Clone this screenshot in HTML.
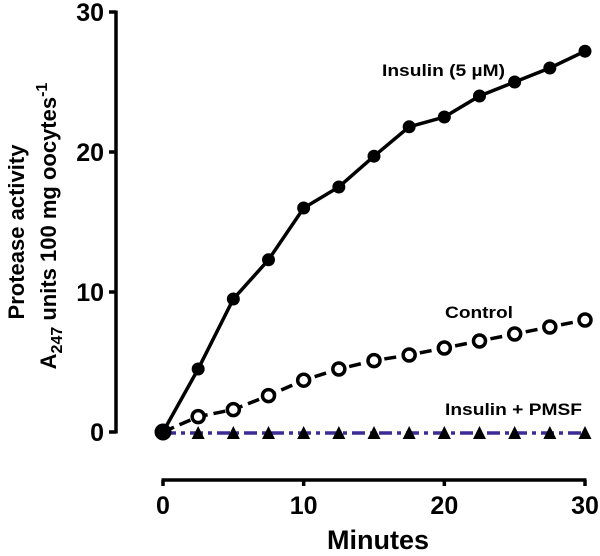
<!DOCTYPE html>
<html><head><meta charset="utf-8"><style>
body{margin:0;background:#fff}
svg text{font-family:"Liberation Sans",sans-serif;font-weight:bold;fill:#000}
</style></head><body>
<svg id="c" width="600" height="551" xmlns="http://www.w3.org/2000/svg"></svg>
<script>
const minutes=[0,2.5,5,7.5,10,12.5,15,17.5,20,22.5,25,27.5,30];
const insulin=[0,4.5,9.5,12.3,16,17.5,19.7,21.8,22.5,24,25,26,27.2];
const control=[0,1.1,1.6,2.6,3.7,4.5,5.1,5.5,6.0,6.5,7.0,7.5,8.0];
const pmsf=[0,0,0,0,0,0,0,0,0,0,0,0,0];
const xTicks=[0,10,20,30];
const yTicks=[0,10,20,30];
const NS="http://www.w3.org/2000/svg";
const svg=document.getElementById('c');
const X=v=>163+v*(585-163)/30;
const Y=v=>432-v*14;
function mk(t,a,p){const e=document.createElementNS(NS,t);for(const k in a)e.setAttribute(k,a[k]);(p||svg).appendChild(e);return e;}
// y axis
let ya=mk('g',{});


mk('line',{x1:116,y1:Y(30)-1.5,x2:116,y2:Y(0)+1.5,stroke:'#000','stroke-width':3.5},ya);
yTicks.forEach(v=>{mk('line',{x1:109,y1:Y(v),x2:116,y2:Y(v),stroke:'#000','stroke-width':3.5},ya);
 const t=mk('text',{x:104,y:Y(v)+9,'text-anchor':'end','font-size':25},ya);t.textContent=v;
 });
// x axis
let xa=mk('g',{});


mk('line',{x1:X(0)-1.5,y1:480,x2:X(30)+1.5,y2:480,stroke:'#000','stroke-width':3.5},xa);
xTicks.forEach(v=>{mk('line',{x1:X(v),y1:480,x2:X(v),y2:486,stroke:'#000','stroke-width':3.5},xa);
 const t=mk('text',{x:X(v),y:514,'text-anchor':'middle','font-size':25},xa);t.textContent=v;
 });
let xt=mk('text',{x:378,y:549,'text-anchor':'middle','font-size':27});xt.textContent='Minutes';

let yt=mk('text',{transform:'translate(24,232) rotate(-90)','text-anchor':'middle','font-size':22});yt.textContent='Protease activity';

let yt2=mk('text',{transform:'translate(56,226) rotate(-90)','text-anchor':'middle','font-size':22});
yt2.innerHTML='A<tspan font-size="16" dy="6">247</tspan><tspan dy="-6"> units 100 mg oocytes</tspan><tspan font-size="16" dy="-9">-1</tspan>';

function pts(a){return minutes.map((m,i)=>X(m)+','+Y(a[i])).join(' ');}
// PMSF
let gp=mk('g',{});

mk('polyline',{points:minutes.map((m,i)=>X(m)+','+(Y(pmsf[i])+1)).join(' '),fill:'none',stroke:'#3b2b95','stroke-width':3.5,'stroke-dasharray':'13,5,4,5'},gp);
minutes.forEach((m,i)=>{if(i===0)return;const x=X(m),y=Y(pmsf[i])+2;
 const p=mk('polygon',{points:`${x},${y-8} ${x-6.5},${y+5} ${x+6.5},${y+5}`,fill:'#000'},gp);
 });
// control
let gc=mk('g',{});

mk('polyline',{points:pts(control),fill:'none',stroke:'#000','stroke-width':3.5,'stroke-dasharray':'12,6'},gc);
minutes.forEach((m,i)=>{const c=mk('circle',{cx:X(m),cy:Y(control[i]),r:6,fill:'#fff',stroke:'#000','stroke-width':3.5},gc);
 });
// insulin
let gi=mk('g',{});

mk('polyline',{points:pts(insulin),fill:'none',stroke:'#000','stroke-width':3.5},gi);
minutes.forEach((m,i)=>{const c=mk('circle',{cx:X(m),cy:Y(insulin[i]),r:i===0?8.5:6.5,fill:'#000'},gi);
 });
// labels
[['Insulin (5 µM)',382,76,'label-insulin',123],['Control',445,318,'label-control',68],['Insulin + PMSF',445,415,'label-pmsf',137]].forEach(l=>{
 const t=mk('text',{x:l[1],y:l[2],'font-size':17,textLength:l[4],lengthAdjust:'spacingAndGlyphs'});t.textContent=l[0];
 });
</script>
</body></html>
